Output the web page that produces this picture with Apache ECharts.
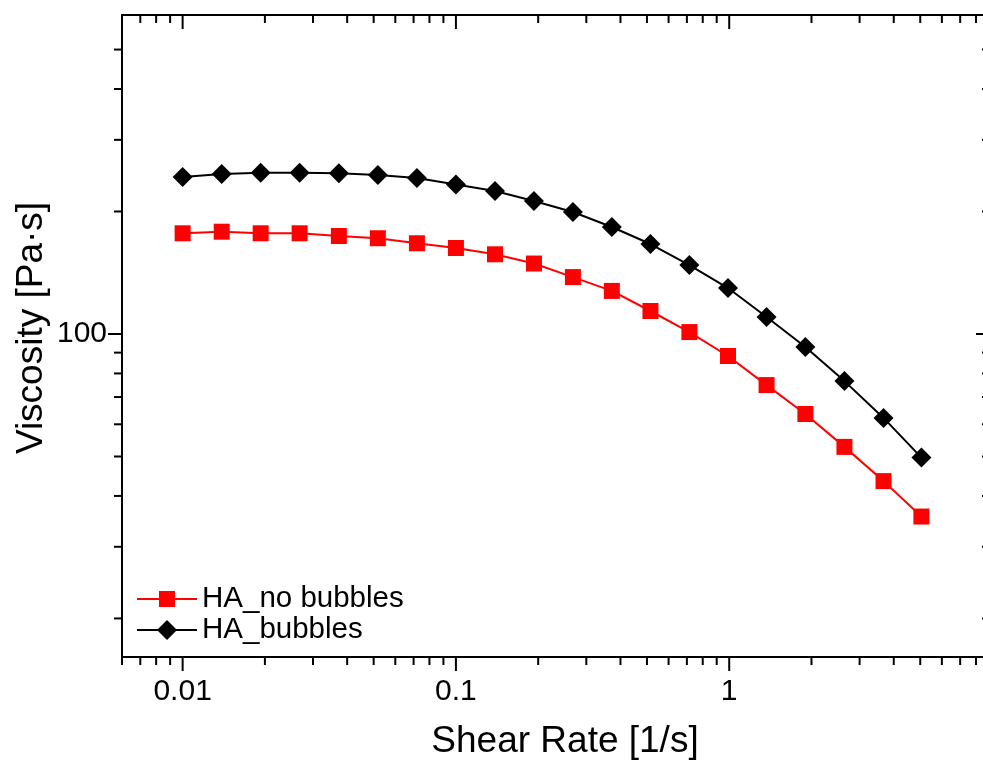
<!DOCTYPE html>
<html>
<head>
<meta charset="utf-8">
<script src="https://cdn.jsdelivr.net/npm/echarts@6/dist/echarts.min.js"></script>
<style>
html, body { margin: 0; padding: 0; background: #fff; }
#chart { width: 983px; height: 760px; }
</style>
</head>
<body>
<div id="chart"></div>
<script>
// Shear rate sweep, [1/s]
const shearRate = [0.01, 0.0139, 0.0193, 0.0268, 0.0373, 0.0518, 0.072, 0.1, 0.139, 0.193,
                   0.268, 0.372, 0.515, 0.715, 0.99, 1.37, 1.9, 2.64, 3.67, 5.05];
// Viscosity [Pa·s]
const viscosityNoBubbles = [176.8, 178.4, 176.8, 176.8, 174.1, 171.9, 167.1, 162.7, 157.0, 149.0,
                            138.0, 127.6, 113.9, 101.1, 88.3, 74.9, 63.6, 52.8, 43.5, 35.6];
const viscosityBubbles = [243.1, 247.3, 249.1, 249.1, 248.3, 245.9, 241.7, 233.0, 224.6, 212.3,
                          199.4, 183.2, 166.4, 147.7, 129.7, 110.1, 92.9, 76.6, 62.2, 49.7];
const seriesNames = ['HA_no bubbles', 'HA_bubbles'];

// Axis ticks and labels
const xMajorTicks = [0.01, 0.1, 1];
const xTickLabels = ['0.01', '0.1', '1'];
const xMinorTicks = [0.006, 0.007, 0.008, 0.009,
                     0.02, 0.03, 0.04, 0.05, 0.06, 0.07, 0.08, 0.09,
                     0.2, 0.3, 0.4, 0.5, 0.6, 0.7, 0.8, 0.9,
                     2, 3, 4, 5, 6, 7, 8];
const yMajorTicks = [100];
const yTickLabels = ['100'];
const yMinorTicks = [20, 30, 40, 50, 60, 70, 80, 90, 200, 300, 400, 500];

const FONT = '"Liberation Sans", Arial, Helvetica, sans-serif';

function labelFor(values, labels) {
  return function (v) {
    for (let i = 0; i < values.length; i++) {
      if (Math.abs(Math.log10(v) - Math.log10(values[i])) < 1e-6) return labels[i];
    }
    return '';
  };
}

// Tick marks: outward on bottom/left, inward on top/right
function tickSeries(axis, majors, minors) {
  const data = [];
  majors.forEach(v => data.push(axis === 'x' ? [v, 100, 1] : [1, v, 1]));
  minors.forEach(v => data.push(axis === 'x' ? [v, 100, 0] : [1, v, 0]));
  return {
    type: 'custom',
    silent: true,
    clip: false,
    z: 5,
    data: data,
    encode: { x: 0, y: 1 },
    renderItem: function (params, api) {
      const cs = params.coordSys;
      const major = api.value(2) === 1;
      const len = major ? 14 : 8;
      const style = { stroke: '#000', lineWidth: 2 };
      if (axis === 'x') {
        const px = api.coord([api.value(0), 100])[0];
        const yb = cs.y + cs.height;
        return {
          type: 'group',
          children: [
            { type: 'line', shape: { x1: px, y1: yb, x2: px, y2: yb + len }, style: style },
            { type: 'line', shape: { x1: px, y1: cs.y, x2: px, y2: cs.y + len }, style: style }
          ]
        };
      }
      const py = api.coord([1, api.value(1)])[1];
      const xr = cs.x + cs.width;
      return {
        type: 'group',
        children: [
          { type: 'line', shape: { x1: cs.x - len, y1: py, x2: cs.x, y2: py }, style: style },
          { type: 'line', shape: { x1: xr - len, y1: py, x2: xr, y2: py }, style: style }
        ]
      };
    }
  };
}

const chart = echarts.init(document.getElementById('chart'), null, { renderer: 'canvas' });

const legendText = { fontFamily: FONT, fontSize: 29.5, color: '#000' };

chart.setOption({
  animation: false,
  backgroundColor: '#fff',
  grid: {
    left: 122, top: 15, width: 868, height: 642,
    show: true, borderColor: '#000', borderWidth: 2, backgroundColor: 'transparent',
    outerBoundsMode: 'none'
  },
  legend: [
    {
      data: [seriesNames[0]], left: 136, top: 584, padding: 0,
      itemWidth: 60, itemHeight: 20, itemGap: 0,
      selectedMode: false, textStyle: legendText
    },
    {
      data: [seriesNames[1]], left: 136, top: 615, padding: 0,
      itemWidth: 60, itemHeight: 25, itemGap: 0,
      selectedMode: false, textStyle: legendText
    }
  ],
  xAxis: {
    type: 'log', logBase: 10, min: 0.006, max: 9,
    name: 'Shear Rate [1/s]', nameLocation: 'middle', nameGap: 66,
    nameMoveOverlap: false,
    nameTextStyle: { fontFamily: FONT, fontSize: 37, color: '#000', padding: [0, 0, 0, 18] },
    axisLine: { show: false },
    axisTick: { show: false },
    splitLine: { show: false },
    minorTick: { show: false },
    axisLabel: {
      margin: 20, fontFamily: FONT, fontSize: 30, color: '#000',
      formatter: labelFor(xMajorTicks, xTickLabels),
      hideOverlap: false
    }
  },
  yAxis: {
    type: 'log', logBase: 10, min: 16.08, max: 608,
    name: 'Viscosity [Pa·s]', nameLocation: 'middle', nameGap: 72, nameRotate: 90,
    nameMoveOverlap: false,
    nameTextStyle: { fontFamily: FONT, fontSize: 37, color: '#000', padding: [0, 0, 0, 16] },
    axisLine: { show: false },
    axisTick: { show: false },
    splitLine: { show: false },
    minorTick: { show: false },
    axisLabel: {
      margin: 15, fontFamily: FONT, fontSize: 30, color: '#000',
      formatter: labelFor(yMajorTicks, yTickLabels),
      hideOverlap: false
    }
  },
  series: [
    {
      name: seriesNames[0], type: 'line',
      data: shearRate.map((x, i) => [x, viscosityNoBubbles[i]]),
      symbol: 'rect', symbolSize: 16,
      lineStyle: { color: '#ff0000', width: 2 },
      itemStyle: { color: '#ff0000' },
      z: 3
    },
    {
      name: seriesNames[1], type: 'line',
      data: shearRate.map((x, i) => [x, viscosityBubbles[i]]),
      symbol: 'diamond', symbolSize: 20,
      lineStyle: { color: '#000', width: 2 },
      itemStyle: { color: '#000' },
      z: 4
    },
    tickSeries('x', xMajorTicks, xMinorTicks),
    tickSeries('y', yMajorTicks, yMinorTicks)
  ]
});
</script>
</body>
</html>
